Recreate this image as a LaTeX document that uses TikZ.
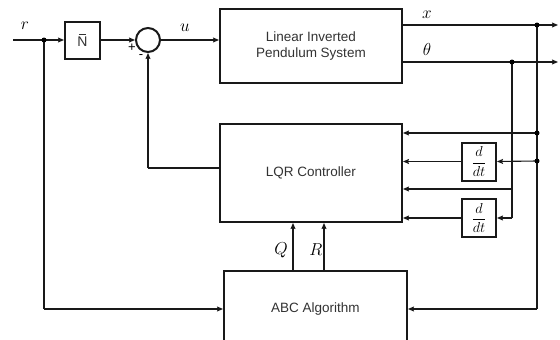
\documentclass[tikz,border=0pt]{standalone}
\usepackage{fontspec}
\setmainfont{Liberation Sans}
\usetikzlibrary{arrows.meta,calc}
\begin{document}
\begin{tikzpicture}[x=1pt,y=-1pt,
  blk/.style={draw=black!90,line width=2pt,inner sep=0pt,font=\fontsize{13.5}{16}\selectfont,text=black!80,align=center},
  sm/.style={draw=black!90,line width=2pt,inner sep=0pt,minimum width=34pt,minimum height=38pt,font=\fontsize{15}{18}\selectfont},
  wire/.style={line width=1.1pt,draw=black!90},
  arr/.style={wire,-{Stealth[length=6pt,width=5pt,inset=1pt]}},
  jdot/.style={circle,fill=black,inner sep=0pt,minimum size=5pt},
  lab/.style={font=\fontsize{17}{20}\selectfont,inner sep=0pt},
  sgn/.style={font=\fontsize{13}{14}\selectfont,inner sep=0pt}
]
\clip (0,0) rectangle (560,340);
\fill[white] (0,0) rectangle (560,340);
% blocks
\node[blk,minimum width=35pt,minimum height=37pt] (N) at (82.5,40) {\fontsize{14}{16}\selectfont\vbox{\offinterlineskip\halign{\hfil#\hfil\cr\vrule width 7pt height 1.3pt\cr\noalign{\kern1.6pt}N\cr}}};
\node[draw=black!90,line width=2pt,circle,minimum size=24pt,inner sep=0pt] (sum) at (148,40) {};
\node[blk,minimum width=182pt,minimum height=74pt] (plant) at (311,46) {Linear Inverted\\Pendulum System};
\node[blk,minimum width=182pt,minimum height=98pt] (lqr) at (311,173) {LQR Controller};
\node[sm] (d1) at (479,161.5) {$\displaystyle\frac{d}{dt}$};
\node[sm] (d2) at (479,218) {$\displaystyle\frac{d}{dt}$};
\node[blk,minimum width=183pt,minimum height=76pt] (abc) at (315.5,309) {ABC Algorithm};
% coordinates
\coordinate (rin) at (13,40);
\coordinate (rdot) at (44,40);
\coordinate (xdot) at (537,25);
\coordinate (tdot) at (512,62);
\coordinate (xend) at (558,25);
\coordinate (tend) at (558,62);
\coordinate (xd1) at (537,133);
\coordinate (xd2) at (537,161);
\coordinate (xbot) at (537,309);
\coordinate (tmid) at (512,189);
\coordinate (tbot) at (512,218);
\coordinate (rbot) at (44,309);
\coordinate (fb) at (148,168);
% wires
\draw[arr] (rin) -- (N.west);
\draw[arr] (N.east) -- (sum.west);
\draw[arr] (sum.east) -- (plant.west |- sum.east);
\draw[arr] (plant.east |- xdot) -- (xend);
\draw[arr] (plant.east |- tdot) -- (tend);
\draw[wire] (xdot) -- (xbot);
\draw[arr] (xbot) -- (abc.east |- xbot);
\draw[wire] (tdot) -- (tbot);
\draw[arr] (tbot) -- (d2.east);
\draw[arr] (d2.west) -- (lqr.east |- d2.west);
\draw[arr] (tmid) -- (lqr.east |- tmid);
\draw[arr] (xd1) -- (lqr.east |- xd1);
\draw[arr] (xd2) -- (d1.east);
\draw[arr] (d1.west) -- (lqr.east |- d1.west);
\draw[wire] (lqr.west |- fb) -- (fb);
\draw[arr] (fb) -- (sum.south);
\draw[wire] (rdot) -- (rbot);
\draw[arr] (rbot) -- (abc.west |- rbot);
\draw[arr] (abc.north -| 293,0) -- (lqr.south -| 293,0);
\draw[arr] (abc.north -| 324,0) -- (lqr.south -| 324,0);
% dots
\foreach \p in {rdot,xdot,tdot,xd1,xd2} \node[jdot] at (\p) {};
% labels
\node[lab] (lr) at (25,26) {$r$};
\node[lab] (lu) at (185,28) {$u$};
\node[lab] (lx) at (427,15) {$x$};
\node[lab] (lt) at (427,50) {$\theta$};
\node[lab] (lq) at (281,250) {$Q$};
\node[lab] (lR) at (316,250) {$R$};
\node[sgn] (lp) at (132,48) {+};
\node[sgn] (lm) at (141,57) {-};
\end{tikzpicture}
\end{document}
